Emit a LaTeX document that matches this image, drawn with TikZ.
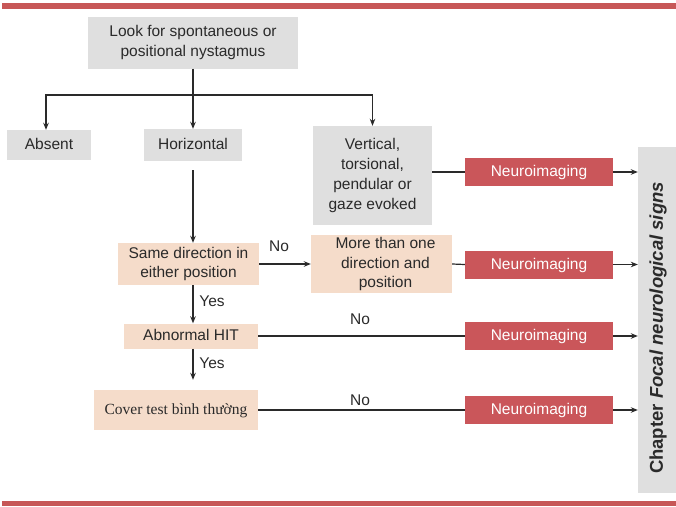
\documentclass[tikz,border=0pt]{standalone}
\usepackage{fontspec}
\setmainfont{Liberation Sans}
\newfontfamily\serifvn{Liberation Serif}
\usetikzlibrary{arrows.meta}
\definecolor{boxgray}{HTML}{DFDFDF}
\definecolor{peach}{HTML}{F5DCCA}
\definecolor{imgred}{HTML}{CA565A}
\definecolor{barred}{HTML}{C75757}
\definecolor{ink}{HTML}{2A2A2A}
\begin{document}
\begin{tikzpicture}[x=1pt,y=-1pt,
  box/.style={inner sep=0pt, align=center, text=ink, font=\fontsize{15.5}{19.8}\selectfont},
  oneline/.style={text height=11.5pt, text depth=2.5pt},
  grey/.style={box, fill=boxgray},
  peachbox/.style={box, fill=peach},
  imgbox/.style={box, oneline, fill=imgred, text=white, minimum width=148pt, minimum height=28pt},
  link/.style={draw=ink, line width=1.2pt},
  arr/.style={link, -{Stealth[length=7pt,width=5.5pt]}},
  lbl/.style={text=ink, font=\fontsize{15.5}{18}\selectfont, inner sep=0pt}]
\useasboundingbox (0,0) rectangle (676,506);

% page rules
\fill[barred] (2,3) rectangle (676,9);
\fill[barred] (2,501) rectangle (676,506);

% boxes
\node[grey, minimum width=210pt, minimum height=52pt] (top) at (193,42.5) {Look for spontaneous or\\positional nystagmus};
\node[grey, oneline, minimum width=84pt, minimum height=30pt] (absent) at (49,145) {Absent};
\node[grey, oneline, minimum width=98pt, minimum height=32pt] (hor) at (193,145) {Horizontal};
\node[grey, minimum width=119pt, minimum height=99pt] (vert) at (372.5,175.5) {Vertical,\\torsional,\\pendular or\\gaze evoked};
\node[peachbox, minimum width=141pt, minimum height=42pt] (same) at (188.5,264) {Same direction in\\either position};
\node[peachbox, minimum width=141pt, minimum height=58pt] (more) at (381.5,264) {\hspace*{8pt}More than one\\\hspace*{8pt}direction and\\\hspace*{8pt}position};
\node[peachbox, oneline, minimum width=134pt, minimum height=25pt] (hit) at (191,336) {Abnormal HIT};
\node[peachbox, oneline, minimum width=164pt, minimum height=40pt, font=\serifvn\fontsize{15.5}{18}\selectfont] (cover) at (176,410) {Cover test bình thường};

\node[imgbox] (img1) at (539,172) {Neuroimaging};
\node[imgbox] (img2) at (539,264.5) {Neuroimaging};
\node[imgbox] (img3) at (539,336) {Neuroimaging};
\node[imgbox] (img4) at (539,410) {Neuroimaging};

\node[fill=boxgray, minimum width=38pt, minimum height=346pt, inner sep=0pt] (chap) at (657,320) {};
\node[rotate=90, inner sep=0pt, font=\bfseries\fontsize{18.5}{20}\selectfont, text=ink] (chaptxt) at (658,328) {Chapter \textit{Focal neurological signs}};

% connectors
\coordinate (split) at (193,95);
\draw[link] (top.south) -- (split);
\draw[arr] (split) -| ([xshift=-3pt]absent.north);
\draw[arr] (split) -- (hor.north);
\draw[arr] (split) -| (vert.north);

\draw[arr] ([yshift=-9pt]hor.south) -- (same.north -| hor);
\draw[arr] (same.east) -- (more.west);
\draw[arr] (same.south -| hor) -- (hit.north -| hor);
\draw[arr, shorten >=10pt] (hit.south -| hor) -- (cover.north -| hor);

\draw[link] (vert.east |- img1.west) -- (img1.west);
\draw[link] (more.east) -- (img2.west);
\draw[link] (hit.east) -- (img3.west);
\draw[link] (cover.east) -- (img4.west);

\draw[arr] (img1.east) -- (img1.east -| chap.west);
\draw[arr] (img2.east) -- (img2.east -| chap.west);
\draw[arr] (img3.east) -- (img3.east -| chap.west);
\draw[arr] (img4.east) -- (img4.east -| chap.west);

% branch labels
\node[lbl] (no1) at (279,246) {No};
\node[lbl] (no2) at (360,319) {No};
\node[lbl] (no3) at (360,400) {No};
\node[lbl] (yes1) at (212,301) {Yes};
\node[lbl] (yes2) at (212,363) {Yes};
\end{tikzpicture}
\end{document}
